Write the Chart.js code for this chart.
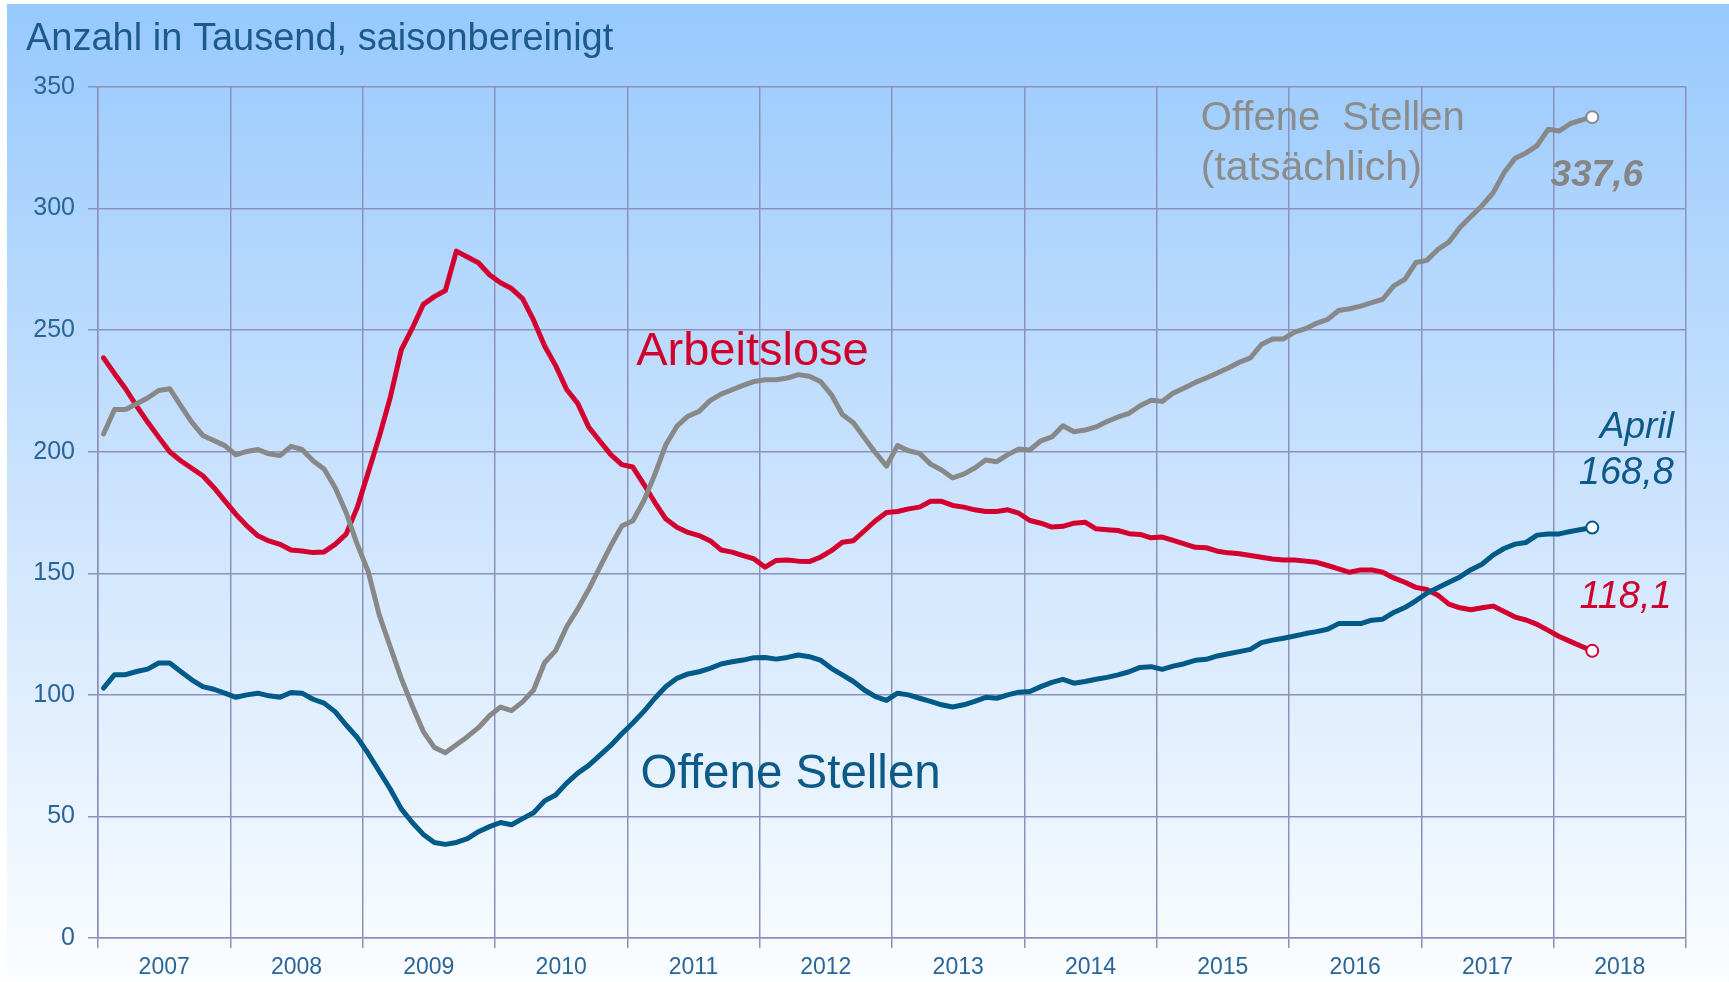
<!DOCTYPE html>
<html>
<head>
<meta charset="utf-8">
<title>Arbeitslose und offene Stellen</title>
<script src="https://cdn.jsdelivr.net/npm/chart.js@4.4.1/dist/chart.umd.min.js"></script>
<style>
  html, body { margin: 0; padding: 0; background: #fff; }
  canvas { display: block; }
</style>
</head>
<body>
<canvas id="graf" width="1729" height="982"></canvas>
<script>
// Monatswerte Jan 2007 - Apr 2018, in Tausend
var years = ['2007','2008','2009','2010','2011','2012','2013','2014','2015','2016','2017','2018'];
var yTicks = [0, 50, 100, 150, 200, 250, 300, 350];

var arbeitslose = [
  238.6, 232.1, 225.9, 218.8, 212.2, 206.0, 200.0, 196.3, 193.2, 190.1, 185.3, 179.8,
  174.3, 169.5, 165.4, 163.3, 161.9, 159.6, 159.2, 158.5, 158.8, 161.9, 166.1, 177.0,
  191.4, 206.1, 222.3, 241.9, 250.8, 260.6, 263.8, 266.3, 282.5, 280.1, 277.7, 272.8,
  269.5, 267.1, 263.0, 254.1, 243.5, 235.4, 225.6, 219.9, 210.1, 204.4, 198.8, 194.7,
  193.7, 186.6, 179.1, 172.3, 168.9, 166.8, 165.5, 163.4, 159.6, 158.7, 157.3, 155.9,
  152.5, 155.3, 155.5, 155.0, 154.8, 156.6, 159.3, 162.8, 163.4, 167.5, 171.6, 175.0,
  175.4, 176.5, 177.2, 179.6, 179.6, 177.9, 177.2, 176.1, 175.4, 175.4, 176.1, 174.7,
  171.7, 170.6, 169.0, 169.3, 170.6, 171.0, 168.3, 167.9, 167.6, 166.3, 166.0, 164.6,
  164.9, 163.5, 162.1, 160.7, 160.5, 159.1, 158.4, 158.0, 157.3, 156.6, 155.9, 155.5,
  155.5, 155.0, 154.5, 153.2, 151.8, 150.4, 151.4, 151.4, 150.4, 148.1, 146.3, 144.2,
  143.3, 141.0, 137.3, 135.8, 135.0, 135.8, 136.5, 134.3, 132.0, 130.8, 129.0, 126.5,
  124.0, 122.0, 120.0, 118.1
];

var offeneStellen = [
  102.8, 108.3, 108.3, 109.6, 110.6, 113.1, 113.1, 109.6, 106.2, 103.4, 102.3, 100.7,
  99.0, 100.0, 100.7, 99.6, 99.0, 101.0, 100.7, 98.2, 96.6, 93.1, 87.6, 82.5,
  75.9, 68.6, 61.3, 53.1, 47.5, 42.6, 39.3, 38.5, 39.3, 40.9, 43.7, 45.8,
  47.5, 46.6, 49.1, 51.5, 56.4, 58.8, 63.7, 67.8, 71.0, 75.1, 79.2, 84.0,
  88.4, 93.2, 98.6, 103.4, 106.8, 108.6, 109.5, 110.9, 112.7, 113.6, 114.3, 115.3,
  115.4, 114.7, 115.4, 116.4, 115.7, 114.3, 110.9, 108.2, 105.5, 102.0, 99.3, 97.7,
  100.7, 100.0, 98.6, 97.3, 95.9, 95.0, 95.9, 97.3, 99.0, 98.6, 100.0, 101.1,
  101.4, 103.4, 105.1, 106.4, 104.8, 105.5, 106.4, 107.2, 108.2, 109.5, 111.3, 111.6,
  110.5, 111.8, 112.8, 114.2, 114.6, 116.0, 116.9, 117.8, 118.7, 121.5, 122.5, 123.3,
  124.2, 125.2, 126.0, 127.0, 129.3, 129.3, 129.3, 130.7, 131.1, 133.9, 135.9, 138.7,
  141.8, 144.0, 146.3, 148.5, 151.5, 153.7, 157.5, 160.2, 162.0, 162.7, 165.7, 166.2,
  166.2, 167.2, 168.0, 168.8
];

var offeneTatsaechlich = [
  207.3, 217.4, 217.4, 219.7, 222.1, 225.2, 225.9, 219.0, 212.2, 206.7, 204.6, 202.5,
  198.7, 200.1, 200.9, 199.1, 198.4, 202.2, 200.9, 196.3, 192.9, 185.3, 175.0, 162.0,
  150.8, 132.9, 119.8, 106.8, 95.4, 84.9, 78.4, 76.2, 79.5, 82.8, 86.5, 91.4,
  95.0, 93.5, 97.1, 102.0, 113.3, 118.2, 128.0, 135.3, 143.4, 152.4, 161.3, 169.4,
  171.6, 179.8, 190.7, 203.0, 210.5, 214.6, 216.6, 221.0, 223.7, 225.5, 227.3, 228.9,
  229.6, 229.6, 230.3, 231.7, 231.0, 228.9, 223.5, 215.3, 211.9, 205.7, 199.6, 194.1,
  202.5, 200.4, 199.3, 194.9, 192.5, 189.2, 190.8, 193.3, 196.6, 195.9, 198.8, 201.1,
  200.7, 204.5, 206.1, 210.7, 208.2, 208.9, 210.2, 212.4, 214.3, 215.8, 218.9, 221.2,
  220.7, 224.1, 226.2, 228.5, 230.3, 232.4, 234.4, 236.8, 238.6, 244.1, 246.4, 246.4,
  249.2, 250.6, 252.8, 254.4, 258.1, 258.8, 259.9, 261.3, 262.7, 268.2, 270.9, 277.8,
  278.7, 283.2, 286.2, 292.2, 296.7, 301.2, 306.4, 314.7, 320.7, 322.9, 325.9, 332.6,
  331.9, 334.9, 336.4, 337.6
];

var gridColor = '#8d91ba';
var tickColor = '#2a6598';
var schrift = '"Liberation Sans", Arial, sans-serif';

// texte im diagramm, position in monaten / tausend
var notes = [
  {text:'Arbeitslose', x:48.8, y:241, color:'#d0002c', font:'47px ' + schrift, align:'left'},
  {text:'Offene Stellen', x:49.2, y:67, color:'#0b5a88', font:'47.5px ' + schrift, align:'left'},
  {text:'Offene  Stellen', x:100, y:336.8, color:'#8c8c8c', font:'40px ' + schrift, align:'left'},
  {text:'(tatsächlich)', x:100, y:316.3, color:'#8c8c8c', font:'41px ' + schrift, align:'left'},
  {text:'337,6', x:140.1, y:313.4, color:'#858585', font:'italic bold 37px ' + schrift, align:'right'},
  {text:'April', x:142.9, y:209.8, color:'#0b5a88', font:'italic 37px ' + schrift, align:'right'},
  {text:'168,8', x:142.9, y:191.2, color:'#0b5a88', font:'italic 38px ' + schrift, align:'right'},
  {text:'118,1', x:142.7, y:140.2, color:'#d0002c', font:'italic 38px ' + schrift, align:'right'}
];

function toPoints(arr){
  return arr.map(function(v, i){ return {x: i + 0.5, y: v}; });
}

function lastOnly(size){
  return function(ctx){
    return ctx.dataIndex === ctx.dataset.data.length - 1 ? size : 0;
  };
}

var hintergrund = {
  id: 'hintergrund',
  beforeDraw: function(chart){
    var ctx = chart.ctx;
    var g = ctx.createLinearGradient(0, 0, 0, chart.height);
    g.addColorStop(0, '#97c9fd');
    g.addColorStop(0.5, '#cbe3fd');
    g.addColorStop(1, '#fbfdff');
    ctx.save();
    ctx.fillStyle = '#ffffff';
    ctx.fillRect(0, 0, chart.width, chart.height);
    ctx.fillStyle = g;
    ctx.fillRect(7, 4, chart.width - 7, chart.height - 4);
    ctx.restore();
  }
};

var beschriftung = {
  id: 'beschriftung',
  afterDatasetsDraw: function(chart){
    var ctx = chart.ctx;
    var xs = chart.scales.x, ys = chart.scales.y;
    ctx.save();
    ctx.textBaseline = 'middle';
    ctx.fillStyle = '#1c5a8a';
    ctx.font = '38px ' + schrift;
    ctx.textAlign = 'left';
    ctx.fillText('Anzahl in Tausend, saisonbereinigt', 26, 40);
    notes.forEach(function(n){
      ctx.fillStyle = n.color;
      ctx.font = n.font;
      ctx.textAlign = n.align;
      ctx.fillText(n.text, xs.getPixelForValue(n.x), ys.getPixelForValue(n.y));
    });
    ctx.restore();
  }
};

var graf = new Chart(document.getElementById('graf'), {
  type: 'line',
  data: {
    datasets: [{
      label: 'Offene Stellen (tatsächlich)',
      data: toPoints(offeneTatsaechlich),
      borderColor: '#888888',
      borderWidth: 5,
      pointRadius: lastOnly(6),
      pointBackgroundColor: '#ffffff',
      pointBorderColor: '#888888',
      pointBorderWidth: 2
    }, {
      label: 'Offene Stellen',
      data: toPoints(offeneStellen),
      borderColor: '#005a87',
      borderWidth: 5,
      pointRadius: lastOnly(6),
      pointBackgroundColor: '#ffffff',
      pointBorderColor: '#005a87',
      pointBorderWidth: 2
    }, {
      label: 'Arbeitslose',
      data: toPoints(arbeitslose),
      borderColor: '#d3002f',
      borderWidth: 5,
      pointRadius: lastOnly(6),
      pointBackgroundColor: '#ffffff',
      pointBorderColor: '#d3002f',
      pointBorderWidth: 2
    }]
  },
  options: {
    responsive: false,
    animation: false,
    devicePixelRatio: 1,
    layout: { padding: { top: 87, right: 43, left: 0, bottom: 0 } },
    plugins: {
      legend: { display: false },
      tooltip: { enabled: false }
    },
    elements: { line: { tension: 0, borderJoinStyle: 'round', borderCapStyle: 'round' } },
    scales: {
      x: {
        type: 'linear',
        min: 0,
        max: years.length * 12,
        afterBuildTicks: function(axis){
          axis.ticks = [];
          for (var v = 0; v <= years.length * 12; v += 6) axis.ticks.push({value: v});
        },
        afterFit: function(axis){ axis.height = 44; },
        grid: {
          color: function(c){
            return c.tick && c.tick.value % 12 === 0 ? gridColor : 'rgba(0,0,0,0)';
          },
          lineWidth: 1.5,
          tickLength: 10
        },
        border: { color: gridColor, width: 1.5 },
        ticks: {
          autoSkip: false,
          maxRotation: 0,
          padding: 6,
          color: tickColor,
          font: { family: schrift, size: 23 },
          callback: function(v){
            return v % 12 === 6 ? years[(v - 6) / 12] : '';
          }
        }
      },
      y: {
        min: 0,
        max: 350,
        afterBuildTicks: function(axis){
          axis.ticks = yTicks.map(function(v){ return {value: v}; });
        },
        afterFit: function(axis){ axis.width = 98; },
        grid: { color: gridColor, lineWidth: 1.5, tickLength: 10 },
        border: { color: gridColor, width: 1.5 },
        ticks: {
          padding: 13,
          color: tickColor,
          font: { family: schrift, size: 25 }
        }
      }
    }
  },
  plugins: [hintergrund, beschriftung]
});
</script>
</body>
</html>
